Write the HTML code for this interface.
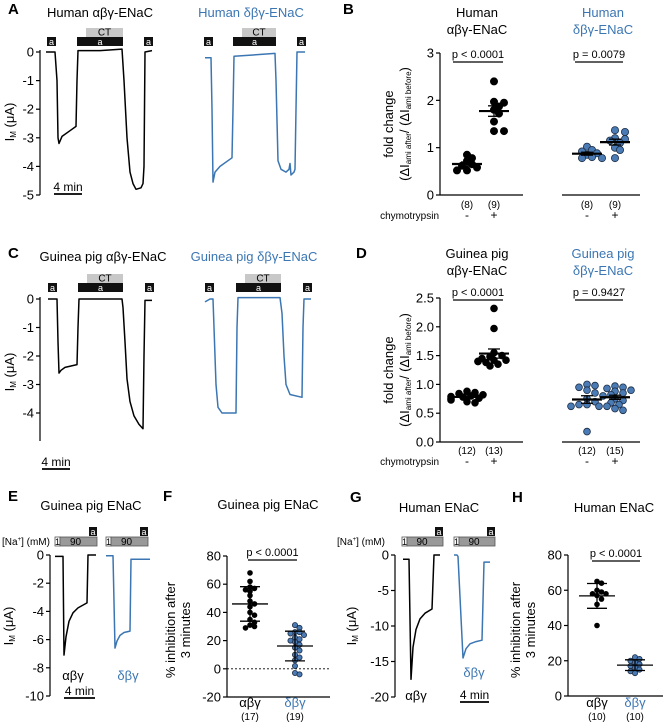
<!DOCTYPE html>
<html><head><meta charset="utf-8">
<style>
html,body{margin:0;padding:0;background:#fff;}
svg{display:block;font-family:"Liberation Sans",Arial,sans-serif;}
</style></head>
<body>
<svg id="fig" width="665" height="725" viewBox="0 0 665 725" xmlns="http://www.w3.org/2000/svg"></svg>
<script>
// ---------- DATA ----------
const traceA_black_t=[0,1.29,1.57,1.71,1.86,2.29,3.43,4.29,4.43,4.57,7.71,10.86,11.14,11.57,12,12.43,12.86,13.57,13.86,14,14.14,15.14];
const traceA_black_v=[0,0,-1,-3,-3.2,-2.95,-2.75,-2.6,-1,0.05,0.05,0.1,-1,-3,-4.2,-4.6,-4.8,-4.75,-4.6,-4,0,0.05];
const traceA_blue_t=[0,0.86,1,1.14,1.43,2.14,3.86,4,4.14,10,10.14,10.43,10.86,11.57,12,12.14,12.29,12.71,12.86,13,13.14,14.29];
const traceA_blue_v=[-0.2,-0.2,-2,-4.55,-4.2,-4.0,-3.7,-2,-0.15,-0.05,-1,-3.8,-4.1,-4.2,-4.1,-3.9,-4.3,-4.2,-4.1,-2,0,0];
const traceC_black_t=[0,1.29,1.43,1.57,1.86,2.43,4.14,4.29,4.43,7.43,10.57,10.71,11,11.29,11.71,12.29,13,13.57,13.71,13.86,14.86];
const traceC_black_v=[0,0,-1.5,-2.6,-2.5,-2.4,-2.3,-1,0,0,0,-0.3,-1.5,-2.8,-3.6,-4.1,-4.4,-4.55,-2,-0.05,-0.05];
const traceC_blue_t=[0,0.71,1.14,1.29,1.57,1.86,2.43,4.43,4.57,4.71,10.71,11,11.29,11.57,12.14,13.86,14,14.14,15.14];
const traceC_blue_v=[-0.1,0,0,-1,-3,-3.8,-4,-4,-1,0.05,0.05,-0.5,-2,-3,-3.35,-3.45,-1,0,0];
const traceE_black_t=[0,1.03,1.16,1.42,1.81,2.32,2.97,4.13,4.26,5.29];
const traceE_black_v=[-0.1,-0.1,-7.1,-5.8,-4.7,-4.1,-3.75,-3.4,0,0];
const traceE_blue_t=[0,0.9,1.16,1.42,1.81,2.32,3.1,3.23,5.68];
const traceE_blue_v=[-0.05,-0.05,-6.6,-6.1,-5.7,-5.5,-5.4,-0.3,-0.3];
const traceG_black_t=[0,0.83,1.1,1.38,1.79,2.34,3.03,4,4.28,5.1];
const traceG_black_v=[-0.6,-0.6,-17.5,-13,-10.5,-9,-8.2,-7.6,0,0];
const traceG_blue_t=[0,0.41,0.55,1.24,1.66,2.21,3.03,3.86,4.14,4.97];
const traceG_blue_v=[0,0,-0.2,-14.5,-13.2,-12.5,-12.2,-12,-1,-1];

const B_cats=["-","+","-","+"];
const B_n=["(8)","(9)","(8)","(9)"];
const B_hA_minus=[0.85,0.78,0.72,0.65,0.62,0.58,0.52,0.52];
const B_hA_plus=[2.4,1.97,1.95,1.87,1.8,1.72,1.55,1.35,1.35];
const B_hD_minus=[1.02,0.95,0.92,0.88,0.85,0.8,0.78,0.78];
const B_hD_plus=[1.37,1.33,1.2,1.18,1.15,1.1,1.0,0.95,0.78];
const B_ticks=[0,1,2,3];
const B_p=["p < 0.0001","p = 0.0079"];

const D_n=["(12)","(13)","(12)","(15)"];
const D_gA_minus=[0.88,0.86,0.84,0.82,0.8,0.79,0.78,0.76,0.75,0.73,0.7,0.68];
const D_gA_plus=[2.32,1.97,1.55,1.5,1.48,1.45,1.42,1.42,1.4,1.4,1.38,1.35,1.32];
const D_gD_minus=[1.0,0.98,0.95,0.9,0.85,0.75,0.7,0.65,0.65,0.62,0.62,0.18];
const D_gD_plus=[0.97,0.95,0.93,0.9,0.88,0.85,0.82,0.8,0.75,0.72,0.68,0.65,0.62,0.58,0.55];
const D_ticks=[0,0.5,1,1.5,2,2.5];
const D_p=["p < 0.0001","p = 0.9427"];

const F_cats=["αβγ","δβγ"];
const F_n=["(17)","(19)"];
const F_ab=[68,62,58,57,56,55,52,48,46,44,40,38,35,33,31,30,29];
const F_db=[31,29,26,26,25,24,22,21,20,19,17,15,13,10,8,6,2,-3,-4];
const F_ticks=[-20,0,20,40,60,80];
const H_n=["(10)","(10)"];
const H_ab=[65,64,60,59,58,58,57,55,52,40];
const H_db=[22,21,20,19,18,17,16,15,14,13];
const H_ticks=[0,20,40,60,80];

// ---------- HELPERS ----------
const S="http://www.w3.org/2000/svg";
const svg=document.getElementById('fig');
const BLUE="#3b76b3";
function mk(tag,attrs,parent){const e=document.createElementNS(S,tag);for(const k in attrs)e.setAttribute(k,attrs[k]);(parent||svg).appendChild(e);return e;}
function txt(x,y,s,opt){opt=opt||{};const t=mk('text',{x:x,y:y,'font-size':opt.fs||12,fill:opt.fill||'#000','text-anchor':opt.anchor||'middle','font-weight':opt.fw||'normal'});
 if(opt.rot)t.setAttribute('transform','rotate(-90 '+x+' '+y+')');t.textContent=s;return t;}
function line(x1,y1,x2,y2,c,w,d){const l=mk('line',{x1:x1,y1:y1,x2:x2,y2:y2,stroke:c||'#000','stroke-width':w||1});if(d)l.setAttribute('stroke-dasharray',d);return l;}
function linScale(d0,d1,r0,r1){return v=>r0+(v-d0)*(r1-r0)/(d1-d0);}
function mean(a){return a.reduce((s,v)=>s+v,0)/a.length;}
function sd(a){const m=mean(a);return Math.sqrt(a.reduce((s,v)=>s+(v-m)*(v-m),0)/(a.length-1));}

function yAxis(x,y,ticks,labels,y0,y1,name){
 const g=mk('g',{});
 
 
 g.appendChild(line(x,y0,x,y1,'#000',1.2));
 ticks.forEach((v,i)=>{const yy=y(v);g.appendChild(line(x-4,yy,x,yy,'#000',1.2));
  const t=txt(x-6,yy+4.5,labels[i],{anchor:'end',fs:13});g.appendChild(t);});
 return g;}

function trace(tArr,vArr,x0,ppm,ys,color,name){
 const d=tArr.map((t,i)=>(i?'L':'M')+(x0+t*ppm).toFixed(1)+' '+ys(vArr[i]).toFixed(1)).join(' ');
 const p=mk('path',{d:d,fill:'none',stroke:color,'stroke-width':1.5,'stroke-linejoin':'round'});
 
 }

function aBox(x,y,w){mk('rect',{x:x,y:y,width:w,height:9,fill:'#111'});txt(x+w/2,y+8,'a',{fs:9,fill:'#fff'});}
function ctBars(xs,y){
 aBox(xs[0],y,9);mk('rect',{x:xs[1]+9,y:y-9,width:xs[2]-xs[1]-9,height:9,fill:'#c8c8c8'});txt((xs[1]+9+xs[2])/2,y-1.5,'CT',{fs:10});
 mk('rect',{x:xs[1],y:y,width:xs[2]-xs[1],height:9,fill:'#111'});txt((xs[1]+xs[2])/2,y+8,'a',{fs:9,fill:'#fff'});aBox(xs[3],y,9);}
function naBars(x,y,wGray){mk('rect',{x:x,y:y,width:5,height:9,fill:'#fff',stroke:'#555','stroke-width':0.8});txt(x+2.5,y+8,'1',{fs:9});
 mk('rect',{x:x+5,y:y,width:wGray,height:9,fill:'#999',stroke:'#555','stroke-width':0.8});txt(x+5+wGray/2-3,y+8,'90',{fs:10});
 aBox(x+5+wGray-8,y-10,8);}
function scaleBar(x,y,len,lbl){txt(x+len/2,y-3,lbl||'4 min',{fs:12});line(x,y,x+len,y,'#000',1.8);}

function swarm(vals,cx,ys,r,fill,stroke,name,spread){
 const placed=[];
 vals.forEach((v,i)=>{const yy=ys(v);let off=0;const steps=[0,1,-1,2,-2,3,-3,4,-4];
  for(const s of steps){off=s*spread;if(placed.every(p=>Math.hypot(p[0]-(cx+off),p[1]-yy)>=r*1.5))break;}
  placed.push([cx+off,yy]);
  const c=mk('circle',{cx:(cx+off).toFixed(1),cy:yy.toFixed(1),r:r,fill:fill,stroke:stroke,'stroke-width':0.8});
  
  });}
function meanSem(vals,cx,ys,hw,ehw,useSd){const m=mean(vals);const e=useSd?sd(vals):sd(vals)/Math.sqrt(vals.length);
 const g=mk('g',{});
 
 
 g.appendChild(line(cx-hw,ys(m),cx+hw,ys(m),'#000',useSd?1.3:2.2));
 g.appendChild(line(cx,ys(m-e),cx,ys(m+e),'#000',1.3));
 g.appendChild(line(cx-ehw,ys(m-e),cx+ehw,ys(m-e),'#000',1.3));
 g.appendChild(line(cx-ehw,ys(m+e),cx+ehw,ys(m+e),'#000',1.3));}
function pBar(x1,x2,y,s){txt((x1+x2)/2,y-4,s,{fs:11});line(x1,y,x2,y,'#000',1.2);}
function naLabel(x,y){const t=txt(x,y,'[Na',{fs:10,anchor:'start'});const s=mk('tspan',{'font-size':6,dy:-4},t);s.textContent='+';const s2=mk('tspan',{dy:4},t);s2.textContent='] (mM)';}
function imLabel(x,y){const t=txt(x,y,'I',{fs:13,rot:true});const ts=mk('tspan',{'font-size':8,dy:2},t);ts.textContent='M';const t2=mk('tspan',{dy:-2},t);t2.textContent=' (μA)';}
function foldLabel(x,y){txt(x,y,'fold change',{fs:13,rot:true});
 const t=txt(x+16,y,'(ΔI',{fs:13,rot:true});const a=mk('tspan',{'font-size':8,dy:2},t);a.textContent='ami after';const b=mk('tspan',{dy:-2},t);b.textContent='/ (ΔI';const c=mk('tspan',{'font-size':8,dy:2},t);c.textContent='ami before';const d=mk('tspan',{dy:-2},t);d.textContent=')';}

// ---------- PANEL LETTERS ----------
[['A',8,14],['B',343,14],['C',8,258],['D',356,258],['E',8,501],['F',163,501],['G',350,502],['H',512,502]].forEach(a=>{
 const t=txt(a[1],a[2],a[0],{fs:15,fw:'bold',anchor:'start'});});

// ---------- PANEL A ----------
txt(100,17,'Human αβγ-ENaC',{fs:13});txt(251,17,'Human δβγ-ENaC',{fs:13,fill:BLUE});
const yA=linScale(0,-5,52,195);
yAxis(40,yA,[0,-1,-2,-3,-4,-5],['0','-1','-2','-3','-4','-5'],50,195,'y-axis-a');
ctBars([47,77,123,144],37);ctBars([204,233,276,297],37);
trace(traceA_black_t,traceA_black_v,46,7,yA,'#000','trace-a-abg');
trace(traceA_blue_t,traceA_blue_v,205,7,yA,BLUE,'trace-a-dbg');
scaleBar(54,194,28);
imLabel(14,122);

// ---------- PANEL C ----------
txt(103,261,'Guinea pig αβγ-ENaC',{fs:13});txt(254,261,'Guinea pig δβγ-ENaC',{fs:13,fill:BLUE});
const yC=linScale(0,-4,299,413);
yAxis(40,yC,[0,-1,-2,-3,-4],['0','-1','-2','-3','-4'],297,441,'y-axis-c');
ctBars([48,78,123,145],283);ctBars([205,236,281,303],283);
trace(traceC_black_t,traceC_black_v,48,7,yC,'#000','trace-c-abg');
trace(traceC_blue_t,traceC_blue_v,205,7,yC,BLUE,'trace-c-dbg');
scaleBar(42,469,28);
imLabel(14,372);

// ---------- PANEL B ----------
txt(477,17,'Human',{fs:13});txt(477,34,'αβγ-ENaC',{fs:13});
txt(603,17,'Human',{fs:13,fill:BLUE});txt(603,34,'δβγ-ENaC',{fs:13,fill:BLUE});
const yB=linScale(0,3,195,53);
yAxis(440,yB,B_ticks,B_ticks.map(String),53,195,'y-axis-b');
line(440,195,523,195,'#000',1.2);line(562,195,640,195,'#000',1.2);
const bx=[467,494,587,615];
[[B_hA_minus,'#000','#000'],[B_hA_plus,'#000','#000'],[B_hD_minus,'#4a7bb5','#1d2d45'],[B_hD_plus,'#4a7bb5','#1d2d45']].forEach((s,i)=>{
 swarm(s[0],bx[i],yB,3.6,s[1],s[2],'b-group-'+i,5);meanSem(s[0],bx[i],yB,15,6,false);
 txt(bx[i],208,B_n[i],{fs:10});txt(bx[i],219,B_cats[i],{fs:12});});
txt(439,219,'chymotrypsin',{fs:10,anchor:'end'});
pBar(453,503,62,B_p[0]);pBar(575,623,62,B_p[1]);
foldLabel(393,124);

// ---------- PANEL D ----------
txt(477,258,'Guinea pig',{fs:13});txt(477,275,'αβγ-ENaC',{fs:13});
txt(603,258,'Guinea pig',{fs:13,fill:BLUE});txt(603,275,'δβγ-ENaC',{fs:13,fill:BLUE});
const yD=linScale(0,2.5,442,298);
yAxis(440,yD,D_ticks,['0.0','0.5','1.0','1.5','2.0','2.5'],298,442,'y-axis-d');
line(440,442,523,442,'#000',1.2);line(562,442,640,442,'#000',1.2);
[[D_gA_minus,'#000','#000'],[D_gA_plus,'#000','#000'],[D_gD_minus,'#4a7bb5','#1d2d45'],[D_gD_plus,'#4a7bb5','#1d2d45']].forEach((s,i)=>{
 swarm(s[0],bx[i],yD,3.4,s[1],s[2],'d-group-'+i,4);meanSem(s[0],bx[i],yD,15,6,false);
 txt(bx[i],454,D_n[i],{fs:10});txt(bx[i],465,B_cats[i],{fs:12});});
txt(439,465,'chymotrypsin',{fs:10,anchor:'end'});
pBar(453,503,300,D_p[0]);pBar(575,623,300,D_p[1]);
foldLabel(393,370);

// ---------- PANEL E ----------
txt(91,510,'Guinea pig ENaC',{fs:13});
naLabel(2,545);
naBars(55,537,37);naBars(106,537,37);
const yE=linScale(0,-10,555,696);
yAxis(50,yE,[0,-2,-4,-6,-8,-10],['0','-2','-4','-6','-8','-10'],555,696,'y-axis-e');
trace(traceE_black_t,traceE_black_v,55,7.75,yE,'#000','trace-e-abg');
trace(traceE_blue_t,traceE_blue_v,106,7.75,yE,BLUE,'trace-e-dbg');
txt(73,680,'αβγ',{fs:13});txt(128,680,'δβγ',{fs:13,fill:BLUE});
scaleBar(64,698,31);
imLabel(13,626);

// ---------- PANEL F ----------
txt(268,509,'Guinea pig ENaC',{fs:13});
const yF=linScale(-20,80,697,556);
yAxis(227,yF,F_ticks,F_ticks.map(String),556,697,'y-axis-f');
line(227,697,330,697,'#000',1.2);
line(227,yF(0),330,yF(0),'#000',0.8,'2,2');
const fx=[250,295];
swarm(F_ab,fx[0],yF,2.4,'#000','#000','f-abg',4.5);swarm(F_db,fx[1],yF,2.6,'#4a7bb5','#1d2d45','f-dbg',4.5);
meanSem(F_ab,fx[0],yF,18,10,true);meanSem(F_db,fx[1],yF,18,10,true);
txt(fx[0],707,F_cats[0],{fs:13});txt(fx[1],707,F_cats[1],{fs:13,fill:BLUE});
txt(fx[0],720,F_n[0],{fs:10});txt(fx[1],720,F_n[1],{fs:10});
pBar(248,297,560,'p < 0.0001');
txt(175,630,'% inhibition after',{fs:13,rot:true});txt(190,630,'3 minutes',{fs:13,rot:true});

// ---------- PANEL G ----------
txt(439,512,'Human ENaC',{fs:13});
naLabel(337,545);
naBars(402,537,36);naBars(454,537,36);
const yG=linScale(0,-20,555,697);
yAxis(395,yG,[0,-5,-10,-15,-20],['0','-5','-10','-15','-20'],555,697,'y-axis-g');
trace(traceG_black_t,traceG_black_v,403,7.25,yG,'#000','trace-g-abg');
trace(traceG_blue_t,traceG_blue_v,454,7.25,yG,BLUE,'trace-g-dbg');
txt(416,700,'αβγ',{fs:13});txt(474,677,'δβγ',{fs:13,fill:BLUE});
scaleBar(460,702,29);
imLabel(356,626);

// ---------- PANEL H ----------
txt(614,512,'Human ENaC',{fs:13});
const yH=linScale(0,80,696,555);
yAxis(568,yH,H_ticks,H_ticks.map(String),555,696,'y-axis-h');
line(568,696,663,696,'#000',1.2);
const hx=[597,635];
swarm(H_ab,hx[0],yH,2.4,'#000','#000','h-abg',4.5);swarm(H_db,hx[1],yH,2.6,'#4a7bb5','#1d2d45','h-dbg',4.5);
meanSem(H_ab,hx[0],yH,18,10,true);meanSem(H_db,hx[1],yH,18,10,true);
txt(hx[0],707,F_cats[0],{fs:13});txt(hx[1],707,F_cats[1],{fs:13,fill:BLUE});
txt(hx[0],720,H_n[0],{fs:10});txt(hx[1],720,H_n[1],{fs:10});
pBar(592,640,561,'p < 0.0001');
txt(520,630,'% inhibition after',{fs:13,rot:true});txt(535,630,'3 minutes',{fs:13,rot:true});
</script>
</body></html>
